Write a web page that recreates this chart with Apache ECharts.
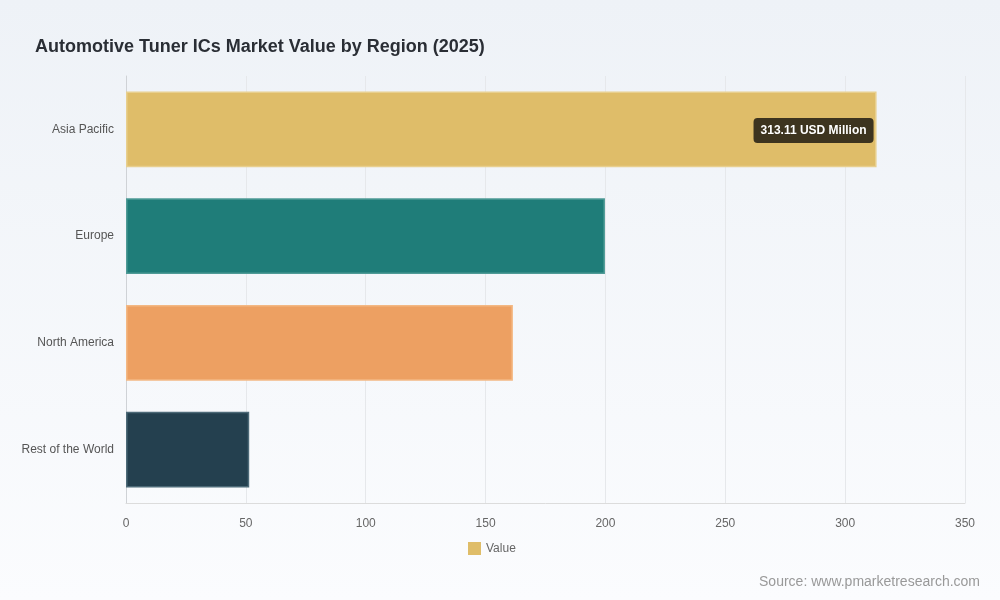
<!DOCTYPE html>
<html>
<head>
<meta charset="utf-8">
<script src="https://cdn.jsdelivr.net/npm/echarts@6/dist/echarts.min.js"></script>
<style>
  html, body { margin: 0; padding: 0; }
  #chart {
    width: 1000px;
    height: 600px;
    background: linear-gradient(180deg, #eef2f7 0%, #fbfcfe 100%);
  }
</style>
</head>
<body>
<div id="chart"></div>
<script>
// regions, top to bottom
const regions = ['Asia Pacific', 'Europe', 'North America', 'Rest of the World'];
const values = [313.11, 199.8, 161.4, 51.4];
const barColors = ['#dfbd69', '#1f7d79', '#eda062', '#24404f'];
const borderColors = ['#e8cf8e', '#4f9a96', '#f3b884', '#4d6a78'];

const chart = echarts.init(document.getElementById('chart'));

chart.setOption({
  backgroundColor: 'transparent',
  title: {
    text: 'Automotive Tuner ICs Market Value by Region (2025)',
    left: 30,
    top: 33,
    textStyle: { color: '#2a2e35', fontSize: 18, fontWeight: 'bold', fontFamily: 'Liberation Sans, Arial, sans-serif' }
  },
  legend: {
    data: ['Value'],
    bottom: 40,
    left: 463,
    itemWidth: 13,
    itemHeight: 13,
    itemGap: 10,
    icon: 'rect',
    textStyle: { color: '#666', fontSize: 12, fontFamily: 'Liberation Sans, Arial, sans-serif' }
  },
  graphic: [{
    type: 'text',
    right: 20,
    top: 575,
    style: {
      text: 'Source: www.pmarketresearch.com',
      fill: '#999',
      font: '14px Liberation Sans, Arial, sans-serif'
    }
  }],
  grid: { left: 126, right: 35, top: 76, bottom: 97 },
  xAxis: {
    type: 'value',
    min: 0,
    max: 350,
    interval: 50,
    axisLine: { show: true, lineStyle: { color: '#dcdcdc' } },
    axisTick: { show: false },
    axisLabel: { color: '#666', fontSize: 12, margin: 15, fontFamily: 'Liberation Sans, Arial, sans-serif' },
    splitLine: { lineStyle: { color: '#e6e8eb' } }
  },
  yAxis: {
    type: 'category',
    data: regions,
    inverse: true,
    axisLine: { lineStyle: { color: '#cfd2d6' } },
    axisTick: { show: false },
    axisLabel: { color: '#555', fontSize: 12, margin: 12, fontFamily: 'Liberation Sans, Arial, sans-serif' }
  },
  series: [{
    name: 'Value',
    type: 'bar',
    barWidth: '71%',
    itemStyle: { color: barColors[0] },
    data: values.map((v, i) => ({
      value: v,
      itemStyle: { color: barColors[i], borderColor: borderColors[i], borderWidth: 1.5 },
      label: i === 0 ? {
        show: true,
        position: 'insideRight',
        distance: 0,
        offset: [-3, 1],
        formatter: p => p.value.toFixed(2) + ' USD Million',
        color: '#fff',
        fontWeight: 'bold',
        fontSize: 12,
        fontFamily: 'Liberation Sans, Arial, sans-serif',
        backgroundColor: '#3d341f',
        borderRadius: 4,
        padding: [7, 7, 6, 7]
      } : { show: false }
    }))
  }]
});
</script>
</body>
</html>
